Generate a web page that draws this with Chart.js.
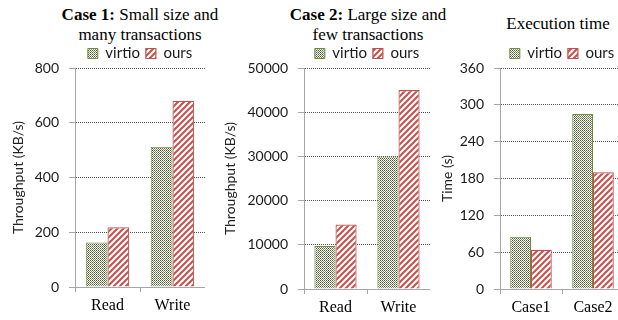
<!DOCTYPE html>
<html>
<head>
<meta charset="utf-8">
<script src="https://cdn.jsdelivr.net/npm/chart.js@4/dist/chart.umd.min.js"></script>
<style>
  html, body { margin: 0; padding: 0; background: #fff; overflow: hidden; }
  body { width: 618px; height: 320px; position: relative; }
  .title {
    position: absolute; text-align: center; white-space: nowrap;
    font-family: "Liberation Serif", "Times New Roman", serif;
    font-size: 17px; line-height: 20px; color: #000;
  }
  .box { position: absolute; }
</style>
</head>
<body>
<div class="title" style="left:40px; top:5px; width:200px;"><b>Case 1:</b> Small size and<br>many transactions</div>
<div class="title" style="left:268px; top:5px; width:200px;"><b>Case 2:</b> Large size and<br>few transactions</div>
<div class="title" style="left:458px; top:14px; width:200px;">Execution time</div>

<div class="box" style="left:0px; top:40px; width:205px; height:280px;"><canvas id="c1"></canvas></div>
<div class="box" style="left:210px; top:40px; width:220px; height:280px;"><canvas id="c2"></canvas></div>
<div class="box" style="left:430px; top:40px; width:194px; height:280px;"><canvas id="c3"></canvas></div>

<script>
// Series names
const seriesNames = ['virtio', 'ours'];

// Case 1: small size, many transactions (KB/s)
const case1Categories = ['Read', 'Write'];
const case1Virtio = [163, 512];
const case1Ours = [218, 680];
const case1Ticks = [0, 200, 400, 600, 800];

// Case 2: large size, few transactions (KB/s)
const case2Categories = ['Read', 'Write'];
const case2Virtio = [9750, 30000];
const case2Ours = [14600, 45000];
const case2Ticks = [0, 10000, 20000, 30000, 40000, 50000];

// Execution time (s)
const timeCategories = ['Case1', 'Case2'];
const timeVirtio = [85, 285];
const timeOurs = [64, 190];
const timeTicks = [0, 60, 120, 180, 240, 300, 360];

// Fill patterns: fine olive mesh and red diagonal hatch
function meshPattern() {
  const s = 4;
  const t = document.createElement('canvas');
  t.width = s; t.height = s;
  const g = t.getContext('2d');
  g.fillStyle = '#ffffff'; g.fillRect(0, 0, s, s);
  // dark olive dots on a 1px checker, with every other dot a bit lighter
  for (let y = 0; y < s; y++) {
    for (let x = 0; x < s; x++) {
      if ((x + y) % 2 === 0) {
        g.fillStyle = (x % 2 === 0) ? '#4e5c34' : '#7d8c62';
        g.fillRect(x, y, 1, 1);
      }
    }
  }
  return g.createPattern(t, 'repeat');
}
function hatchPattern() {
  const s = 6;
  const t = document.createElement('canvas');
  t.width = s; t.height = s;
  const g = t.getContext('2d');
  g.fillStyle = '#ffffff'; g.fillRect(0, 0, s, s);
  g.strokeStyle = '#c9504d'; g.lineWidth = 2;
  g.beginPath();
  g.moveTo(-1, s + 1); g.lineTo(s + 1, -1);
  g.moveTo(-1, 1); g.lineTo(1, -1);
  g.moveTo(s - 1, s + 1); g.lineTo(s + 1, s - 1);
  g.stroke();
  return g.createPattern(t, 'repeat');
}
const virtioFill = meshPattern();
const oursFill = hatchPattern();

const tickFont = { family: 'Lato', size: 14 };
const legendFont = { family: 'Lato', size: 15 };
const catFont = { family: 'Liberation Serif', size: 16 };

function makeChart(id, cats, v1, v2, ticks, yTitle, yWidth, xHeight, titlePad) {
  const maxV = ticks[ticks.length - 1];
  const step = ticks[1] - ticks[0];
  return new Chart(document.getElementById(id), {
    type: 'bar',
    data: {
      labels: cats,
      datasets: [
        { label: seriesNames[0], data: v1, backgroundColor: virtioFill,
          borderColor: '#6f8a3a', borderWidth: 1 },
        { label: seriesNames[1], data: v2, backgroundColor: oursFill,
          borderColor: '#c0504d', borderWidth: 1.2 }
      ]
    },
    options: {
      responsive: true,
      maintainAspectRatio: false,
      animation: false,
      layout: { padding: 0 },
      datasets: { bar: { categoryPercentage: 0.67, barPercentage: 1.0 } },
      plugins: {
        tooltip: { enabled: false },
        legend: {
          position: 'top',
          fullSize: false,
          maxHeight: 28,
          labels: {
            boxWidth: 10, boxHeight: 10, padding: 6,
            color: '#1a1a1a', font: legendFont
          }
        }
      },
      scales: {
        x: {
          grid: { display: true, offset: true, drawOnChartArea: false,
                  tickLength: 5, color: '#a6a6a6' },
          border: { display: true, color: '#a6a6a6', width: 1 },
          ticks: { color: '#000', font: catFont, padding: 4 },
          afterFit: (s) => { s.height = xHeight; }
        },
        y: {
          min: 0, max: maxV,
          ticks: { stepSize: step, color: '#1a1a1a', font: tickFont, padding: 10,
                   callback: (v) => String(v) },
          grid: { color: '#555', tickColor: '#a6a6a6', tickLength: 6, lineWidth: 1 },
          border: { display: true, color: '#a6a6a6', width: 1, dash: [1, 1] },
          title: { display: true, text: yTitle, color: '#222',
                   font: { family: 'Lato', size: 14 },
                   padding: { top: titlePad, bottom: 0 } },
          afterFit: (s) => { s.width = yWidth; }
        }
      }
    }
  });
}

makeChart('c1', case1Categories, case1Virtio, case1Ours, case1Ticks,
          'Throughput (KB/s)', 75, 33, 10);
makeChart('c2', case2Categories, case2Virtio, case2Ours, case2Ticks,
          'Throughput (KB/s)', 94, 31, 12);
makeChart('c3', timeCategories, timeVirtio, timeOurs, timeTicks,
          'Time (s)', 70, 31, 9);
</script>
</body>
</html>
